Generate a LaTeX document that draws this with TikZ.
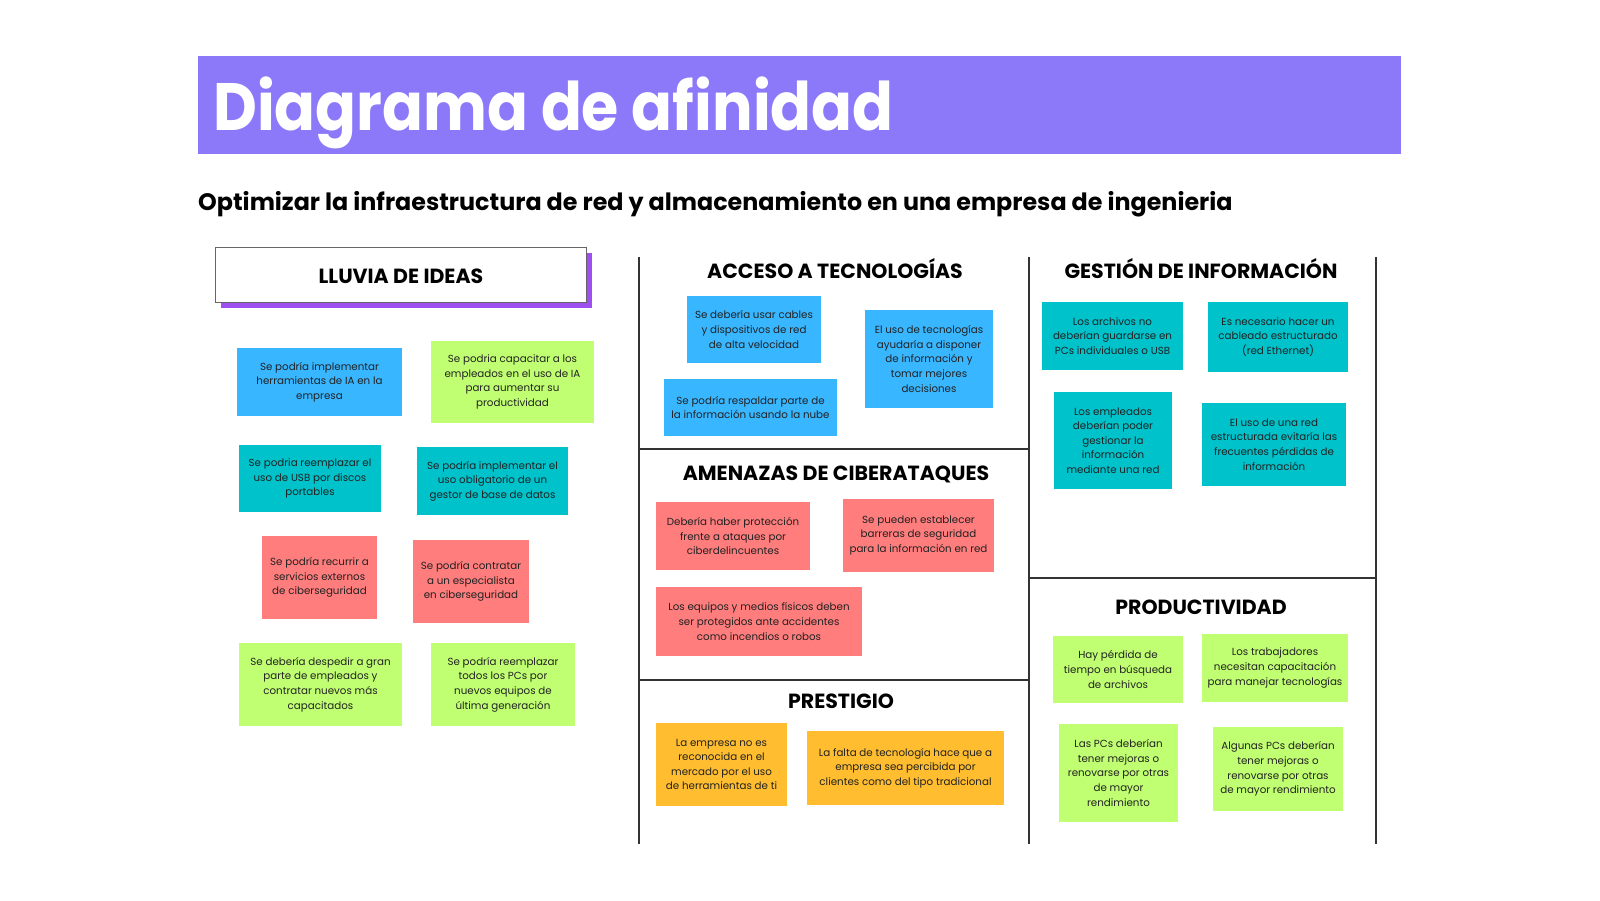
\documentclass[tikz,border=0pt]{standalone}
\usepackage{fontspec}
\setmainfont{Poppins}
\newfontfamily\titlefont[FakeStretch=0.90]{Poppins}
\definecolor{barpurple}{HTML}{8C79FA}
\definecolor{shadowpurple}{HTML}{9E4FF2}
\definecolor{cblue}{HTML}{38B6FF}
\definecolor{cgreen}{HTML}{C1FF72}
\definecolor{cteal}{HTML}{00C2CB}
\definecolor{cred}{HTML}{FF7D7D}
\definecolor{corange}{HTML}{FFBD2F}
\definecolor{txt}{HTML}{222222}
\definecolor{divider}{HTML}{333333}
\tikzset{
  sticky/.style={rectangle, inner sep=2pt, align=center, text=txt,
    font=\fontsize{10.3}{14.6}\selectfont},
  heading/.style={inner sep=0pt, text=black, font=\fontsize{20.5}{24}\selectfont\bfseries},
  divline/.style={draw=divider, line width=1.8pt},
}
\begin{document}
\begin{tikzpicture}[x=1pt,y=-1pt]
\useasboundingbox[fill=white] (0,0) rectangle (1600,900);

% title bar
\fill[barpurple] (198,56) rectangle (1401,154);
\node[anchor=base west, inner sep=0pt, text=white, font=\titlefont\fontsize{67}{70}\selectfont\bfseries] (title) at (213,130) {Diagrama de afinidad};
\node[anchor=base west, inner sep=0pt, text=black, font=\fontsize{23.8}{28}\selectfont\bfseries] (subtitle) at (198,210) {Optimizar la infraestructura de red y almacenamiento en una empresa de ingenieria};

% dividers
\draw[divline] (639,257) -- (639,844);
\draw[divline] (1029,257) -- (1029,844);
\draw[divline] (1376,257) -- (1376,844);
\draw[divline] (639,449) -- (1029,449);
\draw[divline] (639,680) -- (1029,680);
\draw[divline] (1029,578) -- (1376,578);

% lluvia de ideas box
\fill[shadowpurple] (221,253) rectangle (592,308);
\draw[draw=gray!80!black, line width=1pt, fill=white] (215,247) rectangle (586,302);
\node[heading] (lluvia) at (401,276) {LLUVIA DE IDEAS};

% headings
\node[heading] (hacceso) at (835,269) {ACCESO A TECNOLOGÍAS};
\node[heading] (hgestion) at (1201,269) {GESTIÓN DE INFORMACIÓN};
\node[heading] (hamenazas) at (836,474) {AMENAZAS DE CIBERATAQUES};
\node[heading] (hprod) at (1201,607) {PRODUCTIVIDAD};
\node[heading] (hprest) at (841,701) {PRESTIGIO};

% lluvia de ideas notes
\node[sticky, fill=cblue, minimum width=165pt, minimum height=68pt] (l1) at (319.5,382) {Se podría implementar\\herramientas de IA en la\\empresa};
\node[sticky, fill=cgreen, minimum width=163pt, minimum height=82pt] (l2) at (512.5,382) {Se podria capacitar a los\\empleados en el uso de IA\\para aumentar su\\productividad};
\node[sticky, fill=cteal, minimum width=142pt, minimum height=67pt] (l3) at (310,478.5) {Se podria reemplazar el\\uso de USB por discos\\portables};
\node[sticky, fill=cteal, minimum width=151pt, minimum height=68pt] (l4) at (492.5,481) {Se podría implementar el\\uso obligatorio de un\\gestor de base de datos};
\node[sticky, fill=cred, minimum width=115pt, minimum height=83pt] (l5) at (319.5,577.5) {Se podría recurrir a\\servicios externos\\de ciberseguridad};
\node[sticky, fill=cred, minimum width=116pt, minimum height=83pt] (l6) at (471,581.5) {Se podría contratar\\a un especialista\\en ciberseguridad};
\node[sticky, fill=cgreen, minimum width=163pt, minimum height=83pt] (l7) at (320.5,684.5) {Se debería despedir a gran\\parte de empleados y\\contratar nuevos más\\capacitados};
\node[sticky, fill=cgreen, minimum width=144pt, minimum height=83pt] (l8) at (503,684.5) {Se podría reemplazar\\todos los PCs por\\nuevos equipos de\\última generación};

% acceso a tecnologias
\node[sticky, fill=cblue, minimum width=134pt, minimum height=67pt] (a1) at (754,329.5) {Se debería usar cables\\y dispositivos de red\\de alta velocidad};
\node[sticky, fill=cblue, minimum width=128pt, minimum height=98pt] (a2) at (929,359) {El uso de tecnologías\\ayudaría a disponer\\de información y\\tomar mejores\\decisiones};
\node[sticky, fill=cblue, minimum width=173pt, minimum height=57pt] (a3) at (750.5,407.5) {Se podría respaldar parte de\\la información usando la nube};

% amenazas
\node[sticky, fill=cred, minimum width=154pt, minimum height=68pt] (b1) at (733,536) {Debería haber protección\\frente a ataques por\\ciberdelincuentes};
\node[sticky, fill=cred, minimum width=151pt, minimum height=73pt] (b2) at (918.5,535.5) {Se pueden establecer\\barreras de seguridad\\para la información en red};
\node[sticky, fill=cred, minimum width=206pt, minimum height=69pt] (b3) at (759,621.5) {Los equipos y medios físicos deben\\ser protegidos ante accidentes\\como incendios o robos};

% prestigio
\node[sticky, fill=corange, minimum width=131pt, minimum height=83pt] (c1) at (721.5,764.5) {La empresa no es\\reconocida en el\\mercado por el uso\\de herramientas de ti};
\node[sticky, fill=corange, minimum width=197pt, minimum height=74pt] (c2) at (905.5,768) {La falta de tecnología hace que a\\empresa sea percibida por\\clientes como del tipo tradicional};

% gestion de informacion
\node[sticky, fill=cteal, minimum width=141pt, minimum height=68pt] (d1) at (1112.5,336) {Los archivos no\\deberían guardarse en\\PCs individuales o USB};
\node[sticky, fill=cteal, minimum width=140pt, minimum height=70pt] (d2) at (1278,337) {Es necesario hacer un\\cableado estructurado\\(red Ethernet)};
\node[sticky, fill=cteal, minimum width=118pt, minimum height=97pt] (d3) at (1113,440.5) {Los empleados\\deberían poder\\gestionar la\\información\\mediante una red};
\node[sticky, fill=cteal, minimum width=144pt, minimum height=83pt] (d4) at (1274,444.5) {El uso de una red\\estructurada evitaría las\\frecuentes pérdidas de\\información};

% productividad
\node[sticky, fill=cgreen, minimum width=130pt, minimum height=67pt] (e1) at (1118,669.5) {Hay pérdida de\\tiempo en búsqueda\\de archivos};
\node[sticky, fill=cgreen, minimum width=146pt, minimum height=68pt] (e2) at (1275,668) {Los trabajadores\\necesitan capacitación\\para manejar tecnologías};
\node[sticky, fill=cgreen, minimum width=119pt, minimum height=98pt] (e3) at (1118.5,773) {Las PCs deberían\\tener mejoras o\\renovarse por otras\\de mayor\\rendimiento};
\node[sticky, fill=cgreen, minimum width=130pt, minimum height=84pt] (e4) at (1278,769) {Algunas PCs deberían\\tener mejoras o\\renovarse por otras\\de mayor rendimiento};
\end{tikzpicture}
\end{document}
